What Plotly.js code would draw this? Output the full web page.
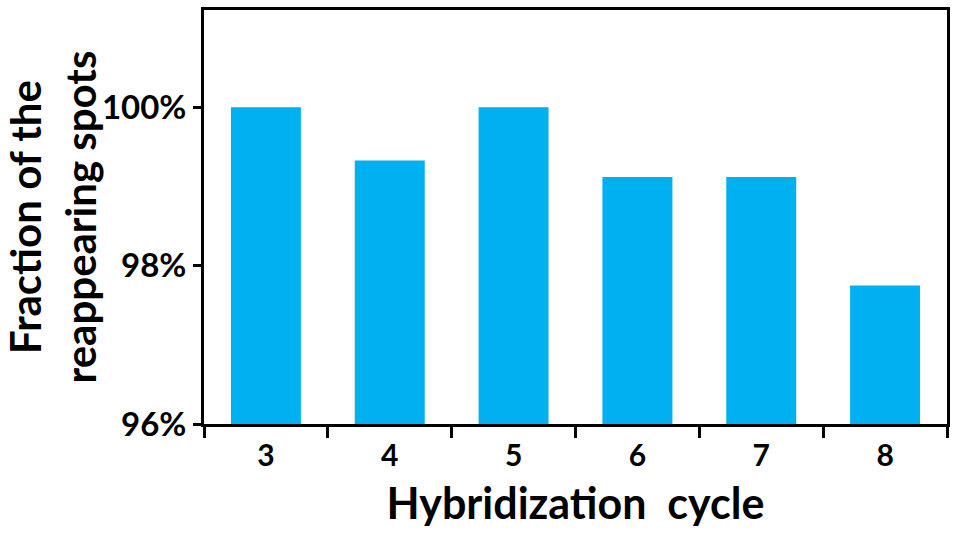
<!DOCTYPE html>
<html>
<head>
<meta charset="utf-8">
<script src="https://cdn.plot.ly/plotly-3.0.1.min.js"></script>
<style>body{margin:0;padding:0;background:#fff;} #chart{width:957px;height:536px;}</style>
</head>
<body>
<div id="chart"></div>
<script>
var cycles = ["3", "4", "5", "6", "7", "8"];
var fractions = [100.0, 99.33, 100.0, 99.12, 99.12, 97.75];
var yTickVals = [96, 98, 100];
var yTickText = ["96%", "98%", "100%"];

var font = "Lato, 'Open Sans', sans-serif";
Plotly.newPlot("chart", [{
  type: "bar",
  x: cycles,
  y: fractions,
  base: 0,
  width: 0.565,
  marker: {color: "#00B0F0", line: {width: 0}},
  hoverinfo: "x+y"
}], {
  width: 957, height: 536,
  margin: {l: 204, r: 10, t: 10, b: 112},
  paper_bgcolor: "#fff", plot_bgcolor: "#fff",
  showlegend: false,
  font: {family: font, color: "#000"},
  xaxis: {
    type: "category",
    showline: true, mirror: true, linecolor: "#000", linewidth: 3,
    ticks: "outside", tickson: "boundaries", ticklen: 11, tickwidth: 3, tickcolor: "#000",
    tickfont: {size: 30, family: font, weight: "bold"},
    ticklabelstandoff: 3,
    showgrid: false,
    title: {text: "Hybridization  cycle", font: {size: 43, family: font, weight: "bold"}, standoff: 18}
  },
  yaxis: {
    range: [96, 101.23],
    tickvals: yTickVals, ticktext: yTickText,
    showline: true, mirror: true, linecolor: "#000", linewidth: 3,
    ticks: "outside", ticklen: 8, tickwidth: 3, tickcolor: "#000",
    tickfont: {size: 33, family: font, weight: "bold"},
    showgrid: false, zeroline: false,
    title: {text: "Fraction of the<br>reappearing spots", font: {size: 42, family: font, weight: "bold"}, standoff: 10}
  }
}, {displayModeBar: false, staticPlot: true});
</script>
</body>
</html>
